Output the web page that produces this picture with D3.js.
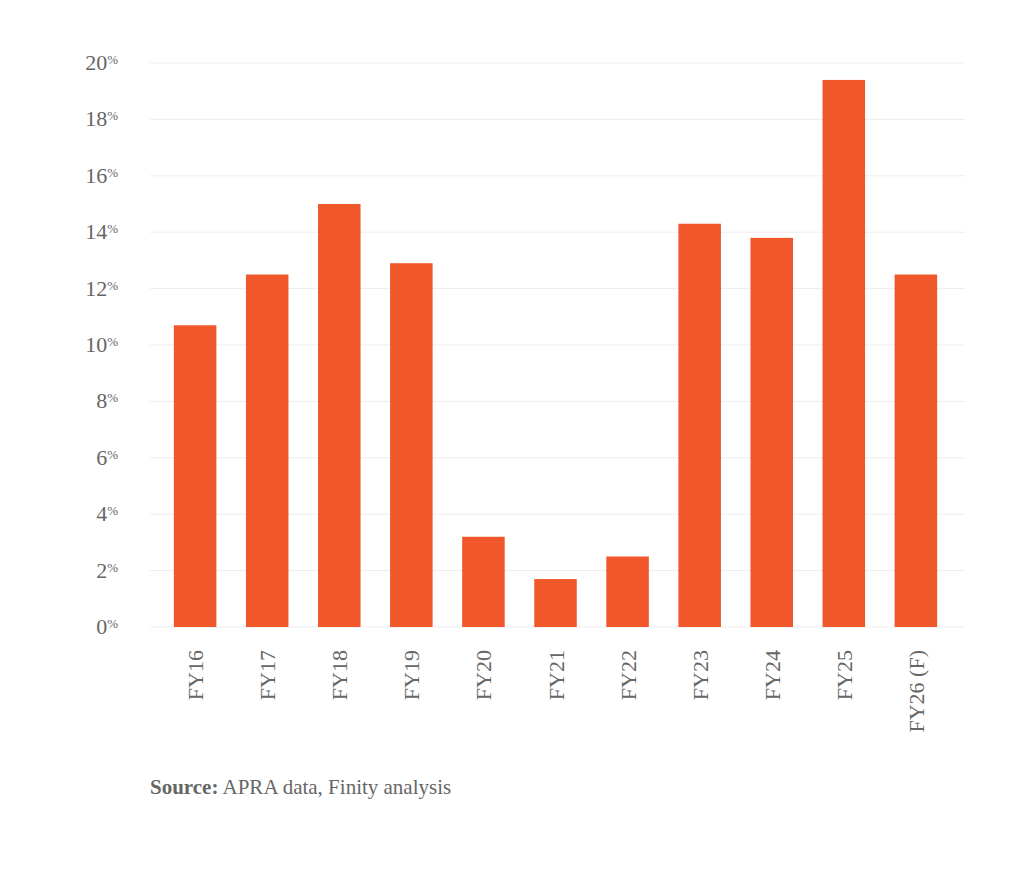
<!DOCTYPE html>
<html><head><meta charset="utf-8">
<script src="https://cdn.jsdelivr.net/npm/d3@7"></script>
<style>body{margin:0;background:#fff}</style>
</head><body>
<svg id="chart" width="1024" height="886"></svg>
<script>
let categories = ["FY16","FY17","FY18","FY19","FY20","FY21","FY22","FY23","FY24","FY25","FY26 (F)"]
let values = [10.7, 12.5, 15.0, 12.9, 3.2, 1.7, 2.5, 14.3, 13.8, 19.4, 12.5]
let yTicks = [0,2,4,6,8,10,12,14,16,18,20]

let svg = d3.select("#chart")
let font = "'Liberation Serif', 'DejaVu Serif', serif"

let x = d3.scaleBand().domain(categories).range([158, 953]).paddingInner(0.41).paddingOuter(0.22)
let y = d3.scaleLinear().domain([0, 20]).range([627, 63])

// grid
svg.selectAll('line.grid')
    .data(yTicks)
    .enter()
    .append('line')
    .attr('x1', 150).attr('x2', 965)
    .attr('y1', d => y(d)).attr('y2', d => y(d))
    .attr('stroke', '#ededed').attr('stroke-width', 1)

// y labels
let yl = svg.selectAll('text.ylab')
    .data(yTicks)
    .enter()
    .append('text')
    .attr('x', 118).attr('y', d => y(d) + 7)
    .attr('text-anchor', 'end')
    .attr('font-family', font).attr('font-size', 22).attr('fill', '#666')
yl.append('tspan').text(d => d)
yl.append('tspan').text('%').attr('font-size', 13).attr('dy', -6)

svg.selectAll('rect')
    .data(values)
    .enter()
    .append('rect')
    .attr('x', (d, i) => x(categories[i]))
    .attr('width', x.bandwidth())
    .attr('y', d => y(d))
    .attr('height', d => y(0) - y(d))
    .attr('fill', '#F0572A')

// x labels rotated
svg.selectAll('text.xlab')
    .data(categories)
    .enter()
    .append('text')
    .attr('transform', d => `translate(${x(d) + x.bandwidth() / 2 + 8},650) rotate(-90)`)
    .attr('text-anchor', 'end')
    .attr('font-family', font).attr('font-size', 22).attr('fill', '#666')
    .text(d => d)

let src = svg.append('text')
    .attr('x', 150).attr('y', 794)
    .attr('font-family', font).attr('font-size', 21).attr('fill', '#666')
src.append('tspan').attr('font-weight', 'bold').text('Source:')
src.append('tspan').text(' APRA data, Finity analysis')
</script>
</body></html>
